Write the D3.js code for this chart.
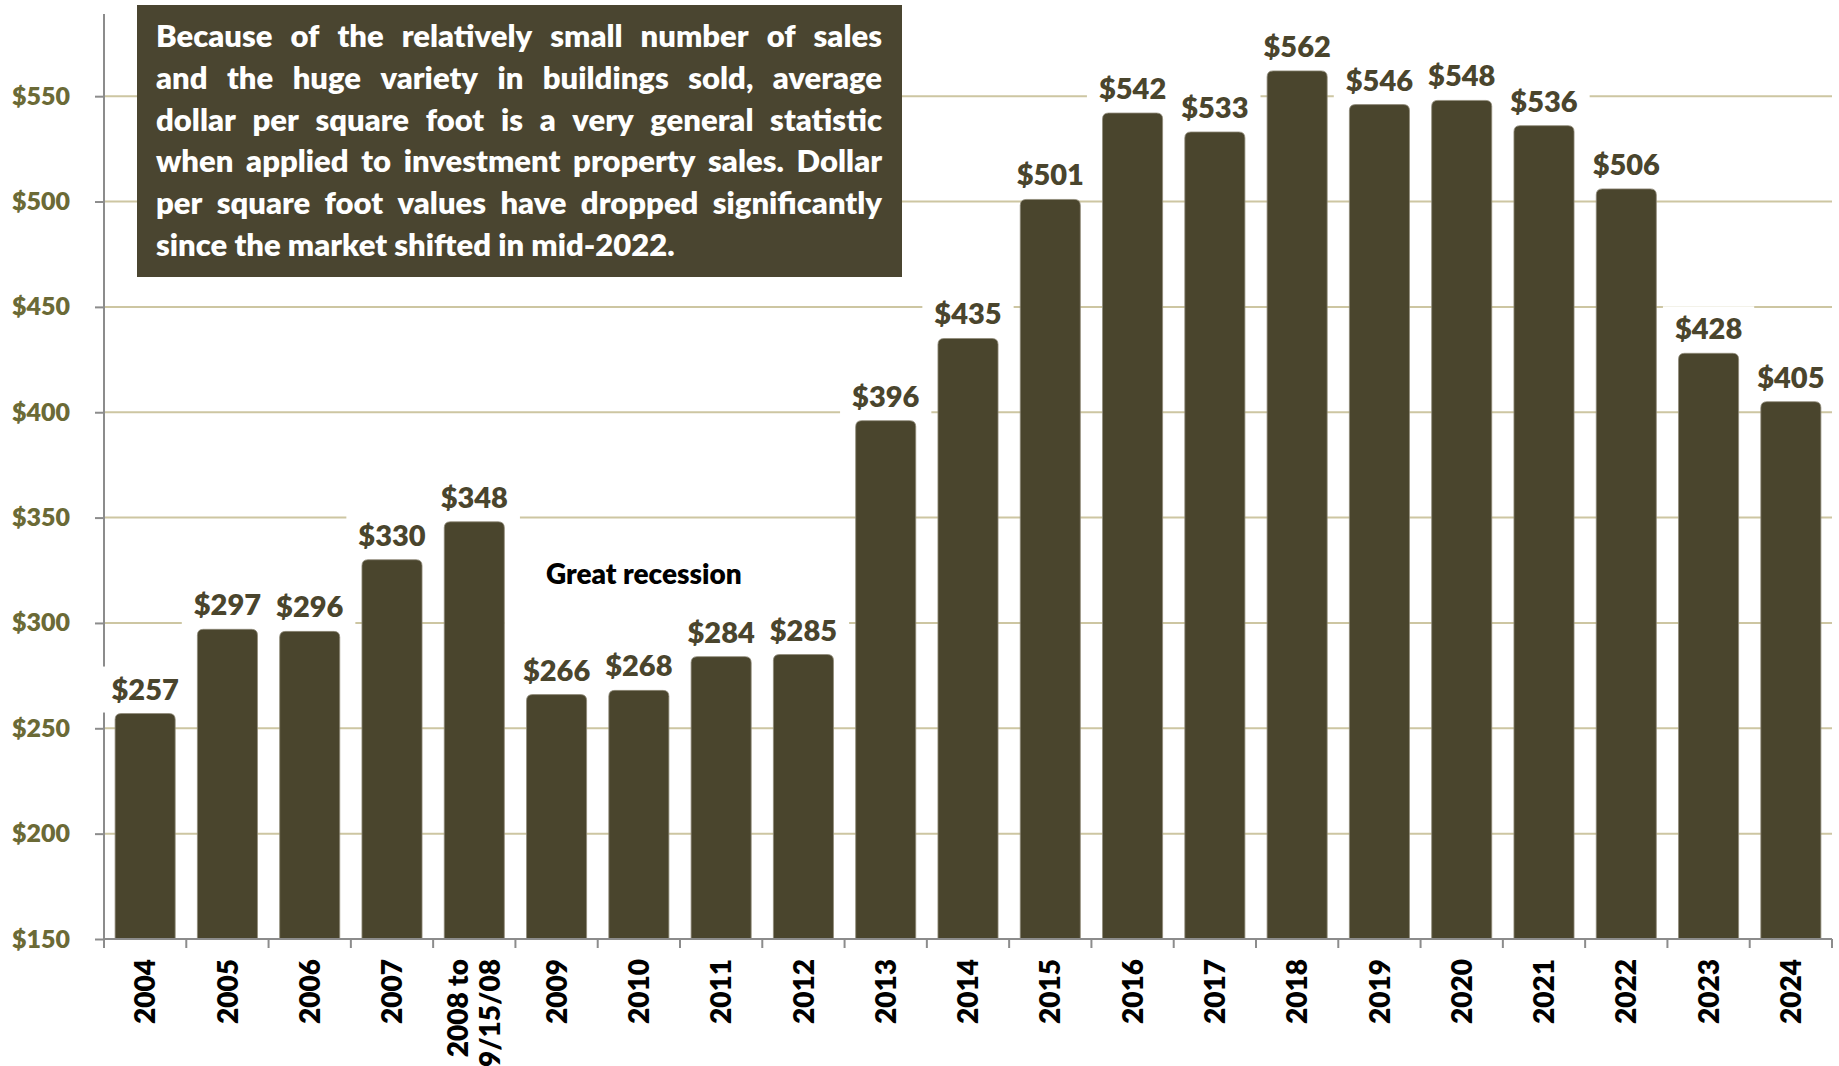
<!DOCTYPE html>
<html>
<head>
<meta charset="utf-8">
<script src="https://cdn.jsdelivr.net/npm/d3@7"></script>
<style>
  html, body { margin: 0; padding: 0; background: #ffffff; }
  svg { display: block; }
  text { font-family: Lato, "Open Sans", sans-serif; font-weight: 800; }
</style>
</head>
<body>
<svg id="chart" width="1839" height="1066"></svg>
<script>
// Average dollar per square foot, investment property sales
const categories = ["2004", "2005", "2006", "2007", "2008 to|9/15/08", "2009", "2010", "2011", "2012",
  "2013", "2014", "2015", "2016", "2017", "2018", "2019", "2020", "2021", "2022", "2023", "2024"];
const values = [257, 297, 296, 330, 348, 266, 268, 284, 285, 396, 435, 501, 542, 533, 562, 546, 548, 536, 506, 428, 405];
const yTicks = [150, 200, 250, 300, 350, 400, 450, 500, 550];
const noteLines = [
  "Because of the relatively small number of sales",
  "and the huge variety in buildings sold, average",
  "dollar per square foot is a very general statistic",
  "when applied to investment property sales. Dollar",
  "per square foot values have dropped significantly",
  "since the market shifted in mid-2022."
];
const annotation = "Great recession";

const BAR = "#4a452d";
const GRID = "#cdc6a2";
const AXIS = "#8c8c8c";
const TICK_TEXT = "#6b6a36";

const svg = d3.select("#chart");
const plot = { left: 104, right: 1832, top: 14, bottom: 939 };

const x = d3.scaleBand()
  .domain(categories)
  .range([plot.left, plot.right])
  .paddingInner(0.27)
  .paddingOuter(0.135);

const y = d3.scaleLinear()
  .domain([150, 589])
  .range([plot.bottom, plot.top]);

// horizontal gridlines
svg.append("g").selectAll("line")
  .data(yTicks.filter(d => d > 150))
  .join("line")
  .attr("x1", plot.left).attr("x2", plot.right)
  .attr("y1", d => y(d)).attr("y2", d => y(d))
  .attr("stroke", GRID).attr("stroke-width", 2);

// y axis
const yAxis = svg.append("g")
  .attr("transform", `translate(${plot.left},0)`)
  .call(d3.axisLeft(y).tickValues(yTicks).tickFormat(d => "$" + d).tickSize(9).tickPadding(25));
yAxis.select(".domain").remove();
yAxis.append("line").attr("x1", 0).attr("x2", 0).attr("y1", plot.top).attr("y2", plot.bottom)
  .attr("stroke", AXIS).attr("stroke-width", 2);
yAxis.selectAll(".tick line").attr("stroke", AXIS).attr("stroke-width", 2);
yAxis.selectAll(".tick text")
  .attr("fill", TICK_TEXT).attr("font-size", 25).attr("font-weight", 800)
  .attr("font-family", "Lato, sans-serif");

// "Great recession" label with its white backing
svg.append("rect")
  .attr("x", x(categories[4]) + x.bandwidth())
  .attr("y", y(340))
  .attr("width", x(categories[7]) - 14 - (x(categories[4]) + x.bandwidth()))
  .attr("height", y(297) - y(340))
  .attr("fill", "#ffffff");

// bars with softly rounded tops
const r = 6;
const barPath = (cat, v) => {
  const x0 = x(cat), x1 = x0 + x.bandwidth(), yt = y(v), yb = y(150);
  return `M${x0},${yb}V${yt + r}Q${x0},${yt} ${x0 + r},${yt}H${x1 - r}Q${x1},${yt} ${x1},${yt + r}V${yb}Z`;
};
svg.append("g").selectAll("path")
  .data(categories.map((c, i) => ({ c, v: values[i] })))
  .join("path")
  .attr("d", d => barPath(d.c, d.v))
  .attr("fill", BAR)
  .attr("stroke", "#8f8a78")
  .attr("stroke-width", 0.8);

// x axis line and ticks at band boundaries
const xg = svg.append("g");
xg.append("line").attr("x1", plot.left).attr("x2", plot.right)
  .attr("y1", plot.bottom).attr("y2", plot.bottom)
  .attr("stroke", AXIS).attr("stroke-width", 2);
const bounds = d3.range(categories.length + 1).map(i => plot.left + i * x.step());
xg.selectAll("line.tk").data(bounds).join("line").attr("class", "tk")
  .attr("x1", d => d).attr("x2", d => d)
  .attr("y1", plot.bottom).attr("y2", plot.bottom + 9)
  .attr("stroke", AXIS).attr("stroke-width", 2);

// rotated category labels
const catG = xg.selectAll("g.cat").data(categories).join("g").attr("class", "cat")
  .attr("transform", d => `translate(${x(d) + x.bandwidth() / 2},${plot.bottom + 20}) rotate(-90)`);
catG.each(function (d) {
  const parts = d.split("|");
  const g = d3.select(this);
  const lh = 32;
  parts.forEach((p, i) => {
    g.append("text")
      .attr("x", 0)
      .attr("y", (i - (parts.length - 1) / 2) * lh)
      .attr("dy", "0.36em")
      .attr("text-anchor", "end")
      .attr("font-size", 28)
      .attr("fill", "#000000")
      .text(p);
  });
});

// value labels with white backing boxes
const labG = svg.append("g");
categories.forEach((c, i) => {
  const cx = x(c) + x.bandwidth() / 2;
  const yt = y(values[i]);
  const t = labG.append("text")
    .attr("x", cx).attr("y", yt - 14)
    .attr("text-anchor", "middle")
    .attr("font-size", 29)
    .attr("fill", BAR)
    .text("$" + values[i]);
  const w = t.node().getComputedTextLength();
  labG.insert("rect", "text")
    .attr("x", cx - w / 2 - 12).attr("y", yt - 47)
    .attr("width", w + 24).attr("height", 46)
    .attr("fill", "#ffffff");
});

svg.append("text")
  .attr("x", x(categories[6]) + x.bandwidth() / 2 + 5)
  .attr("y", y(323))
  .attr("dy", "0.35em")
  .attr("text-anchor", "middle")
  .attr("font-size", 28)
  .attr("fill", "#000000")
  .text(annotation);

// note box with justified text
const box = { x: 137, y: 5, w: 765, h: 272 };
svg.append("rect").attr("x", box.x).attr("y", box.y).attr("width", box.w).attr("height", box.h)
  .attr("fill", "#4a4530");
const textLeft = 156, textWidth = 726;
const noteG = svg.append("g");
let fs = 31;
const measure = (s, size) => {
  const t = noteG.append("text").attr("font-size", size).text(s);
  const w = t.node().getComputedTextLength();
  t.remove();
  return w;
};
const widest = d3.max(noteLines.slice(0, -1), s => measure(s, fs));
if (widest > textWidth) fs = fs * textWidth / widest;
noteLines.forEach((line, i) => {
  const yBase = 47 + i * 41.8;
  const words = line.split(" ");
  if (i === noteLines.length - 1) {
    noteG.append("text").attr("x", textLeft).attr("y", yBase)
      .attr("font-size", fs).attr("fill", "#ffffff").text(line);
    return;
  }
  const widths = words.map(wd => measure(wd, fs));
  const gap = (textWidth - d3.sum(widths)) / (words.length - 1);
  let cx = textLeft;
  words.forEach((wd, k) => {
    noteG.append("text").attr("x", cx).attr("y", yBase)
      .attr("font-size", fs).attr("fill", "#ffffff").text(wd);
    cx += widths[k] + gap;
  });
});
</script>
</body>
</html>
